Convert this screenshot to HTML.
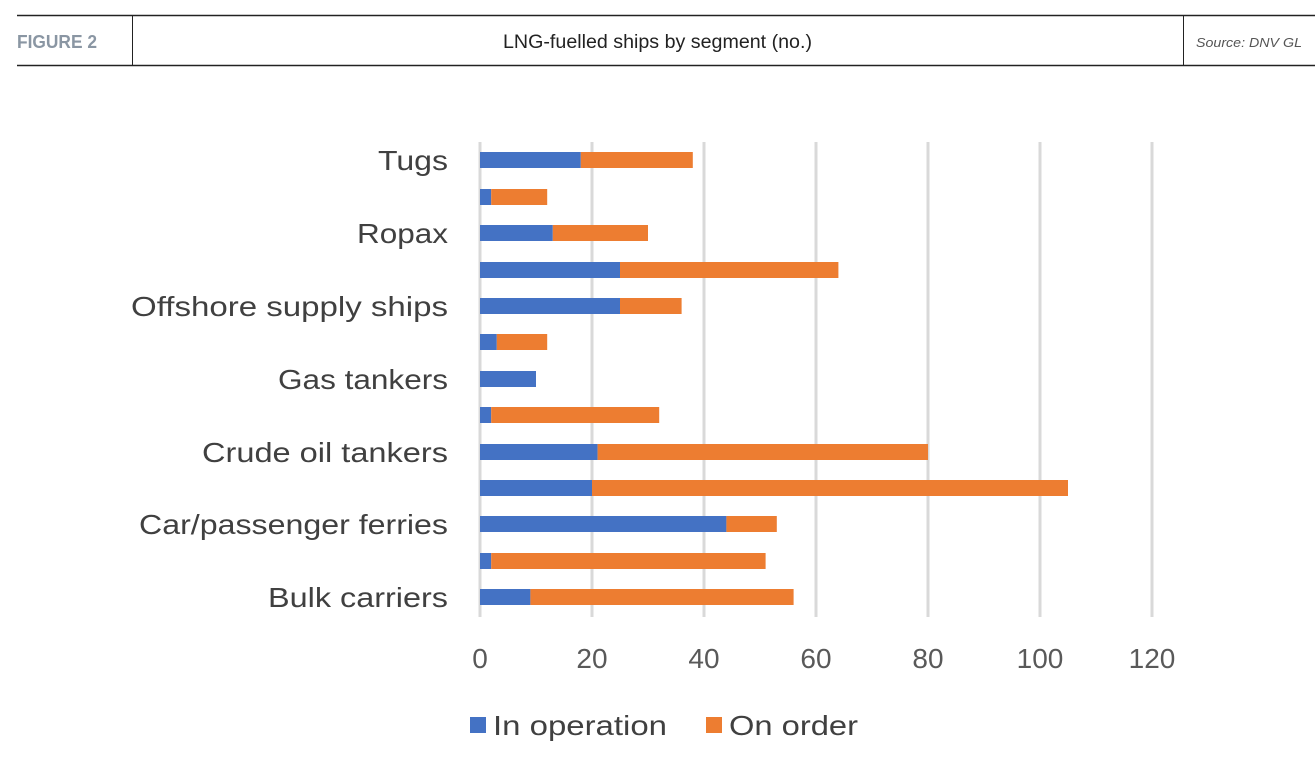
<!DOCTYPE html>
<html><head><meta charset="utf-8"><style>
html,body{margin:0;padding:0;background:#fff;}
svg{display:block;}
</style></head><body>
<svg width="1315" height="762" xmlns="http://www.w3.org/2000/svg" font-family="'Liberation Sans', sans-serif">
<line x1="17" y1="15.5" x2="1315" y2="15.5" stroke="#222" stroke-width="1.5"/>
<line x1="17" y1="65.5" x2="1315" y2="65.5" stroke="#222" stroke-width="1.5"/>
<line x1="132.5" y1="15" x2="132.5" y2="65" stroke="#222" stroke-width="1"/>
<line x1="1183.5" y1="15" x2="1183.5" y2="65" stroke="#222" stroke-width="1"/>
<text x="17" y="48" font-size="18" font-weight="bold" fill="#8a96a3" textLength="80" lengthAdjust="spacingAndGlyphs">FIGURE 2</text>
<text x="503" y="48" font-size="19" fill="#222" textLength="309" lengthAdjust="spacingAndGlyphs">LNG-fuelled ships by segment (no.)</text>
<text x="1196" y="47" font-size="13" font-style="italic" fill="#555" textLength="106" lengthAdjust="spacingAndGlyphs">Source: DNV GL</text>
<g stroke="#d9d9d9" stroke-width="3">
<line x1="480" y1="142" x2="480" y2="617"/>
<line x1="592" y1="142" x2="592" y2="617"/>
<line x1="704" y1="142" x2="704" y2="617"/>
<line x1="816" y1="142" x2="816" y2="617"/>
<line x1="928" y1="142" x2="928" y2="617"/>
<line x1="1040" y1="142" x2="1040" y2="617"/>
<line x1="1152" y1="142" x2="1152" y2="617"/>
</g>
<g font-size="28" fill="#595959" text-anchor="middle">
<text x="480" y="668">0</text><text x="592" y="668">20</text><text x="704" y="668">40</text><text x="816" y="668">60</text><text x="928" y="668">80</text><text x="1040" y="668">100</text><text x="1152" y="668">120</text>
</g>
<g font-size="28" fill="#404040" lengthAdjust="spacingAndGlyphs">
<text x="378" y="170" textLength="70" lengthAdjust="spacingAndGlyphs">Tugs</text>
<text x="357" y="243" textLength="91" lengthAdjust="spacingAndGlyphs">Ropax</text>
<text x="131" y="316" textLength="317" lengthAdjust="spacingAndGlyphs">Offshore supply ships</text>
<text x="278" y="389" textLength="170" lengthAdjust="spacingAndGlyphs">Gas tankers</text>
<text x="202" y="462" textLength="246" lengthAdjust="spacingAndGlyphs">Crude oil tankers</text>
<text x="139" y="534" textLength="309" lengthAdjust="spacingAndGlyphs">Car/passenger ferries</text>
<text x="268" y="607" textLength="180" lengthAdjust="spacingAndGlyphs">Bulk carriers</text>
</g>
<rect x="470" y="717" width="16" height="16" fill="#4472c4"/>
<text x="493" y="735" font-size="28" fill="#404040" textLength="174" lengthAdjust="spacingAndGlyphs">In operation</text>
<rect x="706" y="717" width="16" height="16" fill="#ed7d31"/>
<text x="729" y="735" font-size="28" fill="#404040" textLength="129" lengthAdjust="spacingAndGlyphs">On order</text>
<g>
<rect x="480" y="152" width="100.8" height="16" fill="#4472c4"/><rect x="580.8" y="152" width="112" height="16" fill="#ed7d31"/>
<rect x="480" y="189" width="11.2" height="16" fill="#4472c4"/><rect x="491.2" y="189" width="56" height="16" fill="#ed7d31"/>
<rect x="480" y="225" width="72.8" height="16" fill="#4472c4"/><rect x="552.8" y="225" width="95.2" height="16" fill="#ed7d31"/>
<rect x="480" y="262" width="140" height="16" fill="#4472c4"/><rect x="620" y="262" width="218.4" height="16" fill="#ed7d31"/>
<rect x="480" y="298" width="140" height="16" fill="#4472c4"/><rect x="620" y="298" width="61.6" height="16" fill="#ed7d31"/>
<rect x="480" y="334" width="16.8" height="16" fill="#4472c4"/><rect x="496.8" y="334" width="50.4" height="16" fill="#ed7d31"/>
<rect x="480" y="371" width="56" height="16" fill="#4472c4"/>
<rect x="480" y="407" width="11.2" height="16" fill="#4472c4"/><rect x="491.2" y="407" width="168" height="16" fill="#ed7d31"/>
<rect x="480" y="444" width="117.6" height="16" fill="#4472c4"/><rect x="597.6" y="444" width="330.4" height="16" fill="#ed7d31"/>
<rect x="480" y="480" width="112" height="16" fill="#4472c4"/><rect x="592" y="480" width="476" height="16" fill="#ed7d31"/>
<rect x="480" y="516" width="246.4" height="16" fill="#4472c4"/><rect x="726.4" y="516" width="50.4" height="16" fill="#ed7d31"/>
<rect x="480" y="553" width="11.2" height="16" fill="#4472c4"/><rect x="491.2" y="553" width="274.4" height="16" fill="#ed7d31"/>
<rect x="480" y="589" width="50.4" height="16" fill="#4472c4"/><rect x="530.4" y="589" width="263.2" height="16" fill="#ed7d31"/>
</g>
</svg>
</body></html>
